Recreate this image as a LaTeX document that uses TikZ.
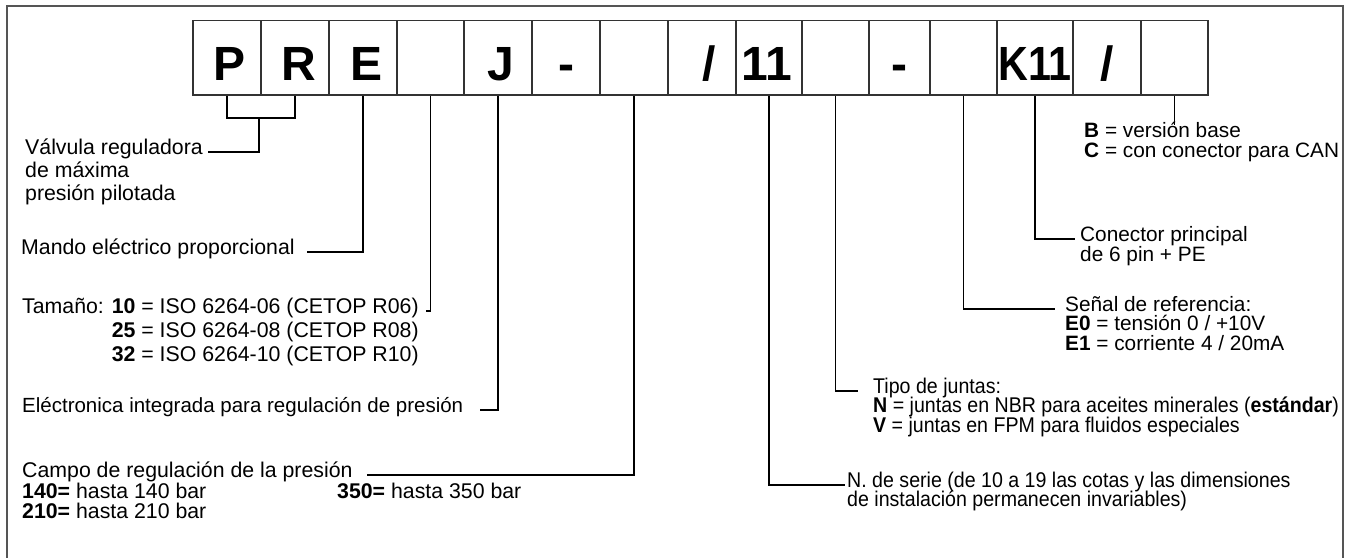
\documentclass[tikz,border=0pt]{standalone}
\usepackage{fontspec}
\setmainfont{Liberation Sans}
\newfontfamily\narrowfont{Liberation Sans}[FakeStretch=0.92]
\usetikzlibrary{positioning}
\usetikzlibrary{calc}

\definecolor{framegray}{HTML}{555555}
\definecolor{boxgray}{HTML}{333333}

\tikzset{
  codebox/.style={draw=boxgray, line width=1.6pt, minimum height=74.5pt, inner sep=0pt},
  codetxt/.style={font=\fontsize{48}{48}\selectfont\bfseries, inner sep=0pt},
  lblA/.style={font=\fontsize{21.3}{23}\selectfont, inner sep=0pt, anchor=west, text height=0.75em, text depth=0.2em},
  lblB/.style={font=\fontsize{20.5}{22}\selectfont, inner sep=0pt, anchor=west, text height=0.75em, text depth=0.2em},
  lblR/.style={font=\fontsize{20.8}{22}\selectfont, inner sep=0pt, anchor=west, text height=0.75em, text depth=0.2em},
  lblN/.style={font=\narrowfont\fontsize{21.3}{22}\selectfont, inner sep=0pt, anchor=west, text height=0.75em, text depth=0.2em},
  lead/.style={line width=1.3pt},
}

\begin{document}
\begin{tikzpicture}[x=1pt,y=-1pt]
          \useasboundingbox (0,0) rectangle (1346,557);
          \draw[framegray, line width=2.4pt] (7,560) -- (7,6) -- (1343,6) -- (1343,560);

          % code boxes
          \foreach \l/\r/\dx/\t [count=\i] in {193/261/3/P, 261/329/4/R, 329/397/4/E, 397/464/0/{}, 464/532/3/J,
                532/600/0/-, 600/668/0/{}, 668/736/7/{/}, 736/802/-2/11, 802/869/0/{}, 869/930/0/-,
                930/997/0/{}, 997/1073/0/{\scalebox{0.86}[1]{K11}}, 1073/1141/0/{/}, 1141/1208/0/{}}
          {
            \node[codebox, minimum width={(\r-\l)*1pt}] (b\i) at ({(\l+\r)/2},57.75) {};
            \node[codetxt, anchor=base] (t\i) at ([xshift=\dx pt,yshift=-22.25pt]b\i.center) {\t};
          }

          % left side
          \node[lblA] (valv) at (25,152) {Válvula reguladora};
          \node[lblA, anchor=base west] (valv2) at ([yshift=-23pt]valv.base west) {de máxima};
          \node[lblA, anchor=base west] (valv3) at ([yshift=-23pt]valv2.base west) {presión pilotada};

          \node[lblA] (mando) at (21,252) {Mando eléctrico proporcional};

          \node[lblA] (tam) at (22,311) {Tamaño: \textbf{10} = ISO 6264-06 (CETOP R06)};
          \node[lblA, anchor=base west] (tam2) at ([yshift=-24pt]tam.base west) {\hphantom{Tamaño: }\textbf{25} = ISO 6264-08 (CETOP R08)};
          \node[lblA, anchor=base west] (tam3) at ([yshift=-24pt]tam2.base west) {\hphantom{Tamaño: }\textbf{32} = ISO 6264-10 (CETOP R10)};

          \node[lblB] (elec) at (22,410) {Eléctronica integrada para regulación de presión};

          \node[lblA] (campo) at (22,475) {Campo de regulación de la presión};
          \node[lblA, anchor=base west] (p140) at ([yshift=-20.5pt]campo.base west) {\textbf{140=} hasta 140 bar};
          \node[lblA, anchor=base west] (p350) at (p140.base -| 337,0) {\textbf{350=} hasta 350 bar};
          \node[lblA, anchor=base west] (p210) at ([yshift=-20.5pt]p140.base west) {\textbf{210=} hasta 210 bar};

          % right side
          \node[lblR] (optB) at (1084,135) {\textbf{B} = versión base};
          \node[lblR, anchor=base west] (optC) at ([yshift=-19.5pt]optB.base west) {\textbf{C} = con conector para CAN};

          \node[lblR] (conn) at (1080,239) {Conector principal};
          \node[lblR, anchor=base west] (conn2) at ([yshift=-19.5pt]conn.base west) {de 6 pin + PE};

          \node[lblR] (senal) at (1065,309) {Señal de referencia:};
          \node[lblR, anchor=base west] (e0) at ([yshift=-19.2pt]senal.base west) {\textbf{E0} = tensión 0 / +10V};
          \node[lblR, anchor=base west] (e1) at ([yshift=-19.2pt]e0.base west) {\textbf{E1} = corriente 4 / 20mA};

          \node[lblN] (tipo) at (873,391) {Tipo de juntas:};
          \node[lblN, anchor=base west] (jn) at ([yshift=-19.2pt]tipo.base west) {\textbf{N} = juntas en NBR para aceites minerales (\textbf{estándar})};
          \node[lblN, anchor=base west] (jv) at ([yshift=-19.2pt]jn.base west) {\textbf{V} = juntas en FPM para fluidos especiales};

          \node[lblN] (serie) at (847,485) {N. de serie (de 10 a 19 las cotas y las dimensiones};
          \node[lblN, anchor=base west] (serie2) at ([yshift=-19.2pt]serie.base west) {de instalación permanecen invariables)};

          % leaders
          \coordinate (brk) at (259,118);
          \draw[lead] (b1.south) -- (b1.south |- brk) -- (b2.south |- brk) -- (b2.south);
          \draw[lead, shorten >=5pt] (brk) |- (valv.east);
          \draw[lead, shorten >=12pt] (b3.south) |- (mando.east);
          \draw[lead, shorten >=7pt] (b4.south) |- (tam.east);
          \draw[lead, shorten >=17pt] (b5.south) |- (elec.east);
          \draw[lead, shorten >=14pt] (b7.south) |- (campo.east);

          \draw[lead, shorten >=2pt] (b9.south) |- (serie.west);
          \draw[lead, shorten >=15pt] (b10.south) |- (tipo.west);
          \draw[lead, shorten >=10pt] (b12.south) |- (senal.west);
          \draw[lead, shorten >=5pt] (b13.south) |- (conn.west);
          \draw[lead, shorten >=5pt] (b15.south) -- (b15.south |- optB.north);

    \end{tikzpicture}
\end{document}
